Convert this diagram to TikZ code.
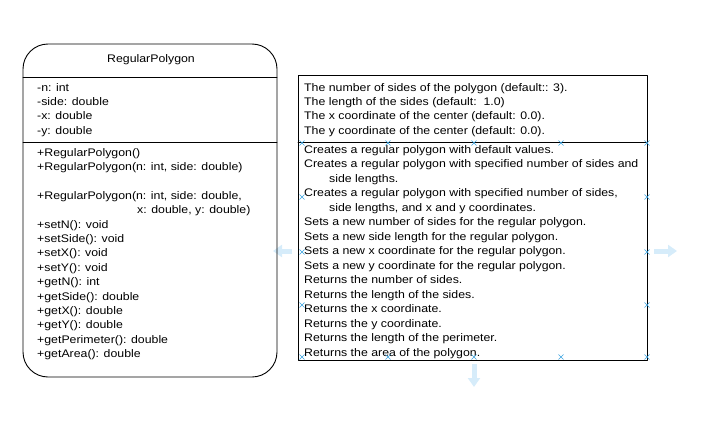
\documentclass[tikz,border=0pt]{standalone}
\usepackage{fontspec}
\setmainfont{Liberation Sans}[FakeStretch=1.12]
\usetikzlibrary{arrows.meta}
\definecolor{hoverblue}{HTML}{D6ECFA}
\definecolor{markblue}{HTML}{3AA3E0}
\begin{document}
\begin{tikzpicture}[x=1pt,y=-1pt,line join=round,line cap=round]
	\tikzset{txt/.style={font=\fontsize{11}{14}\selectfont,inner sep=0pt,anchor=base west},
		box/.style={draw=black,line width=0.9pt},
		hover/.style={draw=hoverblue,line width=5pt,line cap=butt,-{Triangle[width=12pt,length=9pt]}},
		xmark/.style={draw=markblue,line width=0.6pt}}
	\useasboundingbox (0,0) rectangle (701,428);
	% hover arrows of the selected shape
	\draw[hover] (292,251) -- (273,251);
	\draw[hover] (654,251) -- (677,251);
	\draw[hover] (474,364) -- (474,387);
	% class box
	\draw[box,rounded corners=25pt] (23,44) rectangle (277,377);
	\draw[box] (23,77) -- (277,77);
	\draw[box] (23,142) -- (277,142);
	\node[font=\fontsize{11}{14}\selectfont,inner sep=0pt,anchor=base] (cname) at (151,63) {RegularPolygon};
	\foreach \txt [count=\i from 0] in {-n: int,-side: double,-x: double,-y: double}
		\node[txt] (a\i) at (37,{91+14.4*\i}) {\txt};
	\foreach \txt [count=\i from 0] in {+RegularPolygon(),{+RegularPolygon(n: int, side: double)},{},
		{+RegularPolygon(n: int, side: double,},{\hspace*{100pt}x: double, y: double)},
		+setN(): void,+setSide(): void,+setX(): void,+setY(): void,+getN(): int,
		+getSide(): double,+getX(): double,+getY(): double,+getPerimeter(): double,+getArea(): double}
		\node[txt] (m\i) at (37,{156+14.4*\i}) {\txt};
	% description box
	\draw[box] (298,75) rectangle (647,360);
	\draw[box] (298,142) -- (647,142);
	\foreach \txt [count=\i from 0] in {The number of sides of the polygon (default:: 3).,
		The length of the sides (default:\ \ 1.0),
		The x coordinate of the center (default: 0.0).,
		The y coordinate of the center (default: 0.0).}
		\node[txt] (d\i) at (304,{91+14.4*\i}) {\txt};
	\foreach \txt [count=\i from 0] in {Creates a regular polygon with default values.,
		Creates a regular polygon with specified number of sides and,
		\hspace*{25pt}side lengths.,
		{Creates a regular polygon with specified number of sides,},
		{\hspace*{25pt}side lengths, and x and y coordinates.},
		Sets a new number of sides for the regular polygon.,
		Sets a new side length for the regular polygon.,
		Sets a new x coordinate for the regular polygon.,
		Sets a new y coordinate for the regular polygon.,
		Returns the number of sides.,
		Returns the length of the sides.,
		Returns the x coordinate.,
		Returns the y coordinate.,
		Returns the length of the perimeter.,
		Returns the area of the polygon.}
		\node[txt] (e\i) at (304,{153+14.5*\i}) {\txt};
	% connection marks
	\foreach \x/\y in {302/143,388/143,474/143,561/143,647/143,302/197,647/197,302/252,647/252,
		302/305,647/305,302/357,388/357,474/357,561/357,647/357}
		\draw[xmark] (\x-2.5,\y-2.5) -- (\x+2.5,\y+2.5) (\x-2.5,\y+2.5) -- (\x+2.5,\y-2.5);
\end{tikzpicture}
\end{document}
